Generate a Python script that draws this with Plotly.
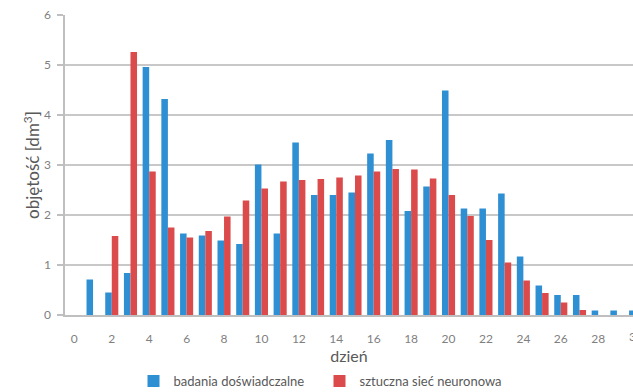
import plotly.graph_objects as go

days = list(range(0, 31))
badania = [0, 0.71, 0.45, 0.84, 4.96, 4.32, 1.63, 1.59, 1.49, 1.42, 3.01,
           1.63, 3.45, 2.40, 2.40, 2.45, 3.23, 3.50, 2.08, 2.57, 4.49,
           2.13, 2.13, 2.43, 1.17, 0.59, 0.40, 0.40, 0.09, 0.09, 0.09]
siec = [0, 0, 1.58, 5.26, 2.87, 1.75, 1.55, 1.68, 1.97, 2.29, 2.53,
        2.67, 2.70, 2.72, 2.75, 2.79, 2.87, 2.92, 2.91, 2.73, 2.40,
        1.98, 1.50, 1.05, 0.69, 0.44, 0.25, 0.10, 0, 0, 0]
xticks = list(range(0, 30, 2))
yticks = [0, 1, 2, 3, 4, 5, 6]
XRANGE = [-0.5, 29.86]

FONT = "Lato"
BLUE = "#2f8fd3"
RED = "#dc4b4b"

fig = go.Figure()
fig.add_trace(go.Bar(x=days, y=badania, name="badania doświadczalne",
                     marker=dict(color=BLUE, line=dict(width=0))))
fig.add_trace(go.Bar(x=days, y=siec, name="sztuczna sieć neuronowa",
                     marker=dict(color=RED, line=dict(width=0))))

fig.update_layout(
    width=633, height=392,
    margin=dict(l=65, r=0, t=15, b=77, autoexpand=False),
    paper_bgcolor="white", plot_bgcolor="white",
    barmode="group", bargap=0.3, bargroupgap=0,
    font=dict(family=FONT, size=12, color="#7f7f7f"),
    showlegend=True,
    legend=dict(orientation="h", x=0.1206, xanchor="left", y=-0.22, yanchor="middle",
                entrywidth=141, entrywidthmode="pixels", itemwidth=30,
                font=dict(family=FONT, size=13, color="#595959"),
                bgcolor="rgba(0,0,0,0)", tracegroupgap=0),
    xaxis=dict(range=XRANGE, tickmode="array", tickvals=xticks,
               ticktext=[str(v) for v in xticks], showgrid=False,
               showline=True, linecolor="#bfbfbf", linewidth=1.5,
               ticks="", ticklabelstandoff=12, automargin=False,
               tickfont=dict(family=FONT, size=12, color="#7f7f7f"),
               title=dict(text="dzień", standoff=0,
                          font=dict(family=FONT, size=16, color="#595959"))),
    yaxis=dict(range=[0, 6], tickmode="array", tickvals=yticks,
               showgrid=True, gridcolor="#c8c8c8", gridwidth=1.5,
               showline=True, linecolor="#bfbfbf", linewidth=1.5,
               ticks="outside", ticklen=6, tickcolor="#bfbfbf", tickwidth=1.5,
               ticklabelstandoff=4, zeroline=False, automargin=False,
               tickfont=dict(family=FONT, size=12, color="#7f7f7f"),
               title=dict(text="objętość [dm<sup>3</sup>]", standoff=0,
                          font=dict(family=FONT, size=17, color="#595959"))),
)

# the category-30 tick label sits at the cropped right edge of the plot
x30 = (30 - XRANGE[0]) / (XRANGE[1] - XRANGE[0])
fig.add_annotation(x=x30, xref="paper", y=0, yref="y", yshift=-21, text="30",
                   showarrow=False, font=dict(family=FONT, size=12, color="#7f7f7f"),
                   xanchor="center", yanchor="middle")

fig.write_html("out.html", config={"displayModeBar": False},
               post_script="document.body.style.margin='0';document.body.style.overflow='hidden';")
